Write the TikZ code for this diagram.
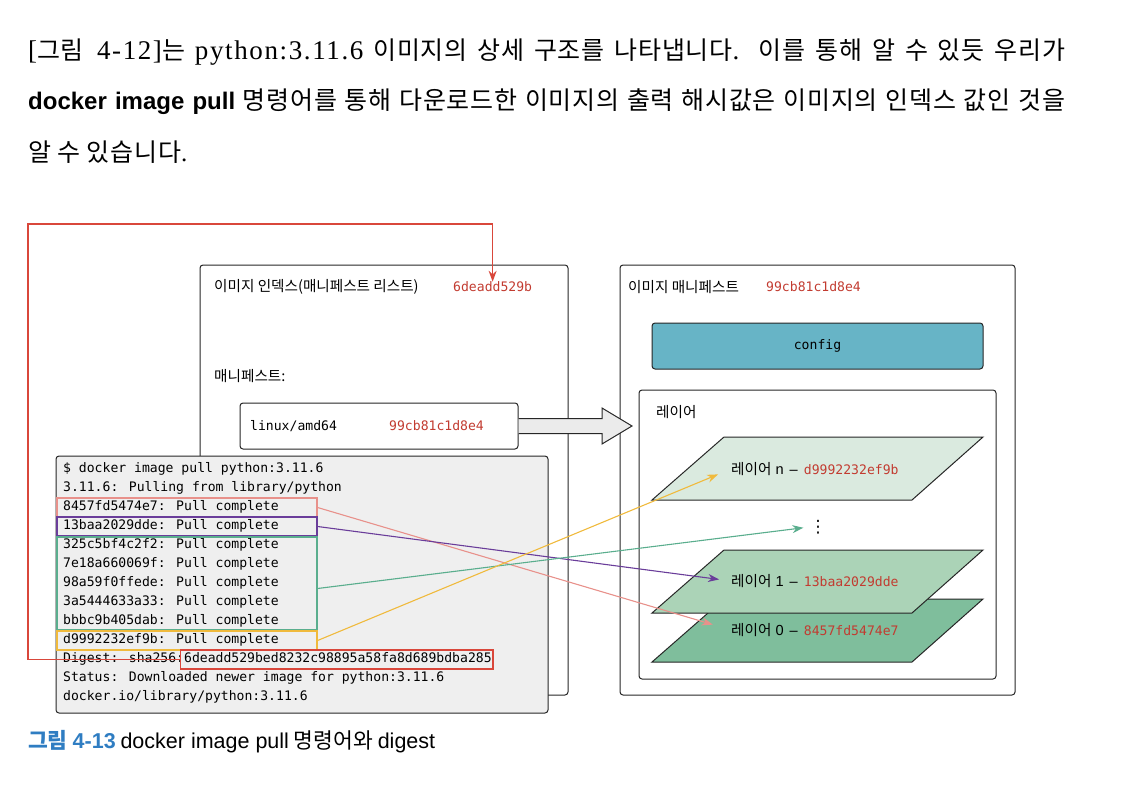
\documentclass[tikz,border=0pt]{standalone}
\usepackage{fontspec}
\setmainfont{Noto Sans CJK KR}
\newfontfamily\bodyf[LetterSpace=3]{Noto Sans CJK KR}
\newfontfamily\monof{DejaVu Sans Mono}
\newfontfamily\seriff{Liberation Serif}
\newfontfamily\wideserif[LetterSpace=6]{Liberation Serif}
\newfontfamily\helvf{Liberation Sans}
\newfontfamily\symf{DejaVu Sans}
\usetikzlibrary{arrows.meta,calc,fit}
\definecolor{hashred}{HTML}{C23B30}
\definecolor{termgray}{HTML}{EFEFEF}
\definecolor{configteal}{HTML}{67B4C6}
\definecolor{layerN}{HTML}{DAEADF}
\definecolor{layerA}{HTML}{ABD3B7}
\definecolor{layerB}{HTML}{7FBE9C}
\definecolor{pinkline}{HTML}{E8918B}
\definecolor{purpleline}{HTML}{6A3D9A}
\definecolor{greenline}{HTML}{5AAE8E}
\definecolor{yellowline}{HTML}{F0BA3C}
\definecolor{digestred}{HTML}{D9473B}
\definecolor{capblue}{HTML}{2F7DC2}
\newcommand\latn[1]{{\wideserif\fontsize{27}{28}\selectfont #1}}
\tikzset{
  box/.style={draw=black!85, line width=1pt, rounded corners=3pt, inner sep=0pt},
  lbl/.style={anchor=west, inner sep=0pt, font=\fontsize{14.6}{16}\selectfont},
  hash/.style={text=hashred, font=\monof\fontsize{13.1}{15}\selectfont},
  term/.style={anchor=west, inner sep=0pt, font=\monof\fontsize{13.1}{15}\selectfont},
  hl/.style={draw=#1, line width=1.2pt, inner sep=0pt},
  link/.style={draw=#1, line width=1.1pt, -{Stealth[length=11pt,width=8pt]}},
  layer/.style={draw=black!85, line width=1pt, fill=#1},
  body/.style={anchor=west, inner sep=0pt, font=\bodyf\fontsize{25}{28}\selectfont},
}
\begin{document}
\begin{tikzpicture}[x=1pt,y=-1pt]
\useasboundingbox (0,0) rectangle (1139,789);
\node[body] (line1) at (28,52) {\makebox[1037pt][s]{\latn{[}그림\latn{\ 4-12]}는 \latn{python:3.11.6} 이미지의 상세 구조를 나타냅니다\latn{.} 이를 통해 알 수 있듯 우리가}};
\node[body] (line2) at (28,102) {\makebox[1037pt][s]{{\helvf\bfseries\fontsize{24}{28}\selectfont docker image pull} 명령어를 통해 다운로드한 이미지의 출력 해시값은 이미지의 인덱스 값인 것을}};
\node[body] (line3) at (28,152) {알 수 있습니다{\seriff.}};

\node[box, minimum width=368pt, minimum height=430pt] (index) at (384,480) {};
\node[lbl] (indextitle) at (214,287) {이미지 인덱스(매니페스트 리스트)};
\node[lbl, hash] (indexhash) at (453,287) {6deadd529b};
\node[lbl] (mlabel) at (214,376) {매니페스트:};
\node[box, fill=white, minimum width=278pt, minimum height=46pt] (linux) at (379,426) {};
\node[lbl, font=\monof\fontsize{13.1}{15}\selectfont] (platform) at (250,426) {linux/amd64};
\node[lbl, hash] (linuxhash) at (389,426) {99cb81c1d8e4};

\node[box, minimum width=395pt, minimum height=430pt] (manifest) at (817.5,480) {};
\node[lbl] (mtitle) at (628,287) {이미지 매니페스트};
\node[lbl, hash] (mhash) at (766,287) {99cb81c1d8e4};
\node[box, fill=configteal, minimum width=331pt, minimum height=46pt, font=\monof\fontsize{13.1}{15}\selectfont] (config) at (817.5,346) {config};
\node[box, minimum width=357pt, minimum height=289pt] (layers) at (817.5,534.5) {};
\node[lbl] (ltitle) at (656,412) {레이어};

\coordinate (tip) at (632,426);
\draw[line width=1pt, draw=black!85, fill=black!8] ($(linux.east)+(0,-7.5)$) -- (602,418.5) -- (602,408) -- (tip) -- (602,444) -- (602,433.5) -- ($(linux.east)+(0,7.5)$);

\foreach \ty/\c in {599/layerB, 550/layerA, 437/layerN}
  \draw[layer=\c] (724,\ty) -- (983,\ty) -- (912,\ty+63) -- (652,\ty+63) -- cycle;
\node[lbl] (layn) at (731,469) {레이어{\helvf\ n\hspace{2pt} –\hspace{2pt} }\textcolor{hashred}{\monof\fontsize{13.1}{15}\selectfont d9992232ef9b}};
\node[lbl] (lay1) at (731,581) {레이어{\helvf\ 1\hspace{2pt} –\hspace{2pt} }\textcolor{hashred}{\monof\fontsize{13.1}{15}\selectfont 13baa2029dde}};
\node[lbl] (lay0) at (731,630) {레이어{\helvf\ 0\hspace{2pt} –\hspace{2pt} }\textcolor{hashred}{\monof\fontsize{13.1}{15}\selectfont 8457fd5474e7}};
\node[inner sep=0pt, font=\symf\fontsize{17}{17}\selectfont] (dots) at (818,527) {⋮};

\node[box, fill=termgray, minimum width=492pt, minimum height=257pt] (term) at (302,584.5) {};
\foreach \t [count=\i] in {\$ docker image pull python:3.11.6, 3.11.6: Pulling from library/python, 8457fd5474e7: Pull complete, 13baa2029dde: Pull complete, 325c5bf4c2f2: Pull complete, 7e18a660069f: Pull complete, 98a59f0ffede: Pull complete, 3a5444633a33: Pull complete, bbbc9b405dab: Pull complete, d9992232ef9b: Pull complete, Digest: sha256:6deadd529bed8232c98895a58fa8d689bdba285, Status: Downloaded newer image for python:3.11.6, docker.io/library/python:3.11.6}
  \node[term] (t\i) at (63,450+19*\i) {\t};

\node[hl=pinkline, fit={(57,498) (317,517)}] (hl0) {};
\node[hl=purpleline, fit={(57,517) (317,536)}] (hl1) {};
\node[hl=greenline, fit={(57,537) (317,630)}] (hlg) {};
\node[hl=yellowline, fit={(57,631) (317,650)}] (hln) {};
\node[hl=digestred, fit={(180.5,650) (493,669)}] (hld) {};

\draw[link=pinkline, shorten >=19pt] (hl0.east) -- (lay0.west);
\draw[link=purpleline, shorten >=12pt] (hl1.east) -- (lay1.west);
\draw[link=greenline, shorten >=6pt] ($(hlg.east)+(0,5)$) -- (dots.west);
\draw[link=yellowline, shorten >=14pt] (hln.east) -- (layn.west);
\coordinate (bend) at (28,224);
\draw[link=digestred] (hld.west) -| (bend) -| (indexhash.north);

\node[anchor=west, inner sep=0pt, font=\fontsize{21.5}{24}\selectfont] (caption) at (28,742) {\textcolor{capblue}{\bfseries 그림 {\helvf 4-13}} {\helvf docker image pull} 명령어와 {\helvf digest}};
\end{tikzpicture}
\end{document}
